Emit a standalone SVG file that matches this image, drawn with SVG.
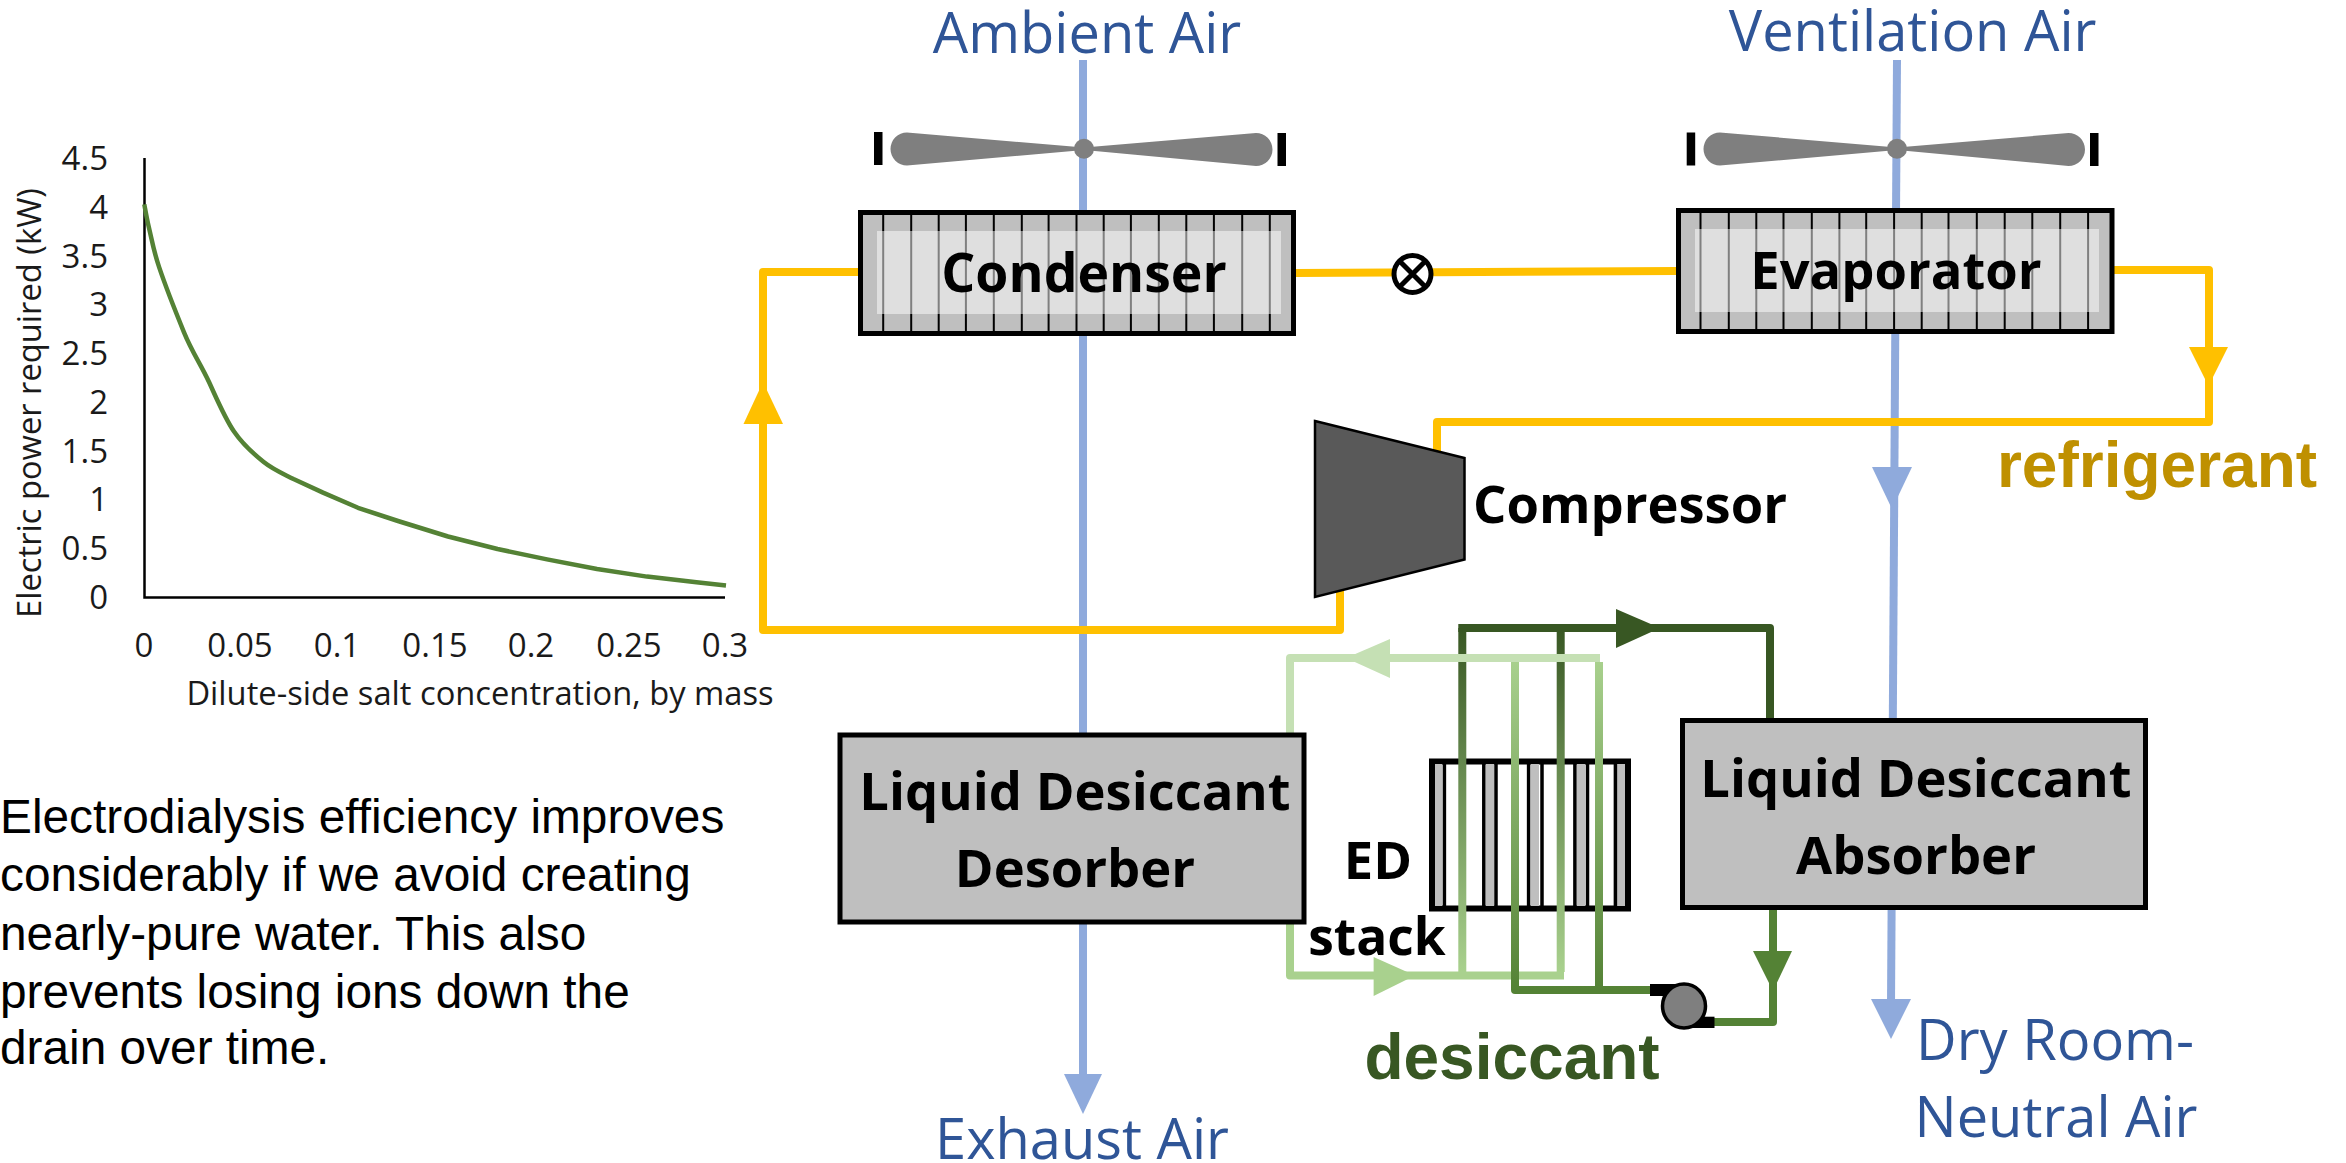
<svg xmlns="http://www.w3.org/2000/svg" width="2346" height="1163" viewBox="0 0 2346 1163">
<style>
text{font-family:"Open Sans","Noto Sans",sans-serif}
.air{font-size:56px;fill:#2f5597;text-anchor:middle}
.b{font-weight:700;text-anchor:middle;fill:#000;font-size:52.500px}
.ar{font-family:"Liberation Sans",Arial,sans-serif;font-weight:700;font-size:64px;text-anchor:middle}
.c{font-family:Lato,"Open Sans",sans-serif;fill:#1a1a1a}
.tick{font-size:33px;text-anchor:end}
.xt{font-size:33px;text-anchor:middle}
.ti{font-size:32.700px;text-anchor:middle}
.body{font-family:"Liberation Sans",Arial,sans-serif;font-size:47.800px;fill:#000}
.box{fill:#bfbfbf;stroke:#000;stroke-width:5}
.inner{fill:#fff;fill-opacity:.5}
.fin{stroke:#000;stroke-width:2;fill:none}
.fan{fill:#7f7f7f}
.w{fill:none;stroke-width:8;stroke-linejoin:round;stroke-linecap:butt}
.y{stroke:#ffc000}.a{stroke:#8faadc}
</style>
<defs>
<linearGradient id="gd" gradientUnits="userSpaceOnUse" x1="0" y1="628" x2="0" y2="972"><stop offset="0" stop-color="#385723"/><stop offset="1" stop-color="#a9d18e"/></linearGradient>
<linearGradient id="gl" gradientUnits="userSpaceOnUse" x1="0" y1="658" x2="0" y2="990"><stop offset="0" stop-color="#a9d18e"/><stop offset="1" stop-color="#548235"/></linearGradient>
</defs>

<g id="chart">
<path d="M144.500 158V597.500H725" fill="none" stroke="#000" stroke-width="2.500"/>
<path d="M144.300 204.400C145.100 208.500 146.800 218.700 149.300 229.200C151.800 239.700 153.400 250.200 159.200 267.400C165 284.600 175.700 312 184 332.300C192.300 352.600 200.700 364 209 382C217.300 400 224.900 418.200 234 431.500C243.100 444.800 253.800 454.100 263.700 462C273.600 469.900 283.600 473.900 293.500 479L323 492.600 358 507.800 398 521 448 536.500 497.500 549 547 559.400 597 569 647 576.600 696.500 582.300 726 585.400" fill="none" stroke="#548235" stroke-width="4.500" stroke-linejoin="round"/>
<g class="c">
<text class="tick" x="108" y="170">4.5</text><text class="tick" x="108" y="219">4</text><text class="tick" x="108" y="268">3.5</text><text class="tick" x="108" y="316">3</text><text class="tick" x="108" y="365">2.5</text><text class="tick" x="108" y="414">2</text><text class="tick" x="108" y="463">1.5</text><text class="tick" x="108" y="511">1</text><text class="tick" x="108" y="560">0.5</text><text class="tick" x="108" y="609">0</text>
<text class="xt" x="144" y="657">0</text><text class="xt" x="240" y="657">0.05</text><text class="xt" x="337" y="657">0.1</text><text class="xt" x="435" y="657">0.15</text><text class="xt" x="531" y="657">0.2</text><text class="xt" x="629" y="657">0.25</text><text class="xt" x="725" y="657">0.3</text>
<text class="ti" x="480" y="705">Dilute-side salt concentration, by mass</text>
<text class="ti" transform="translate(41 403) rotate(-90)">Electric power required (kW)</text>
</g>
</g>
<g id="note">
<text class="body" x="0" y="833">Electrodialysis efficiency improves</text>
<text class="body" x="0" y="891">considerably if we avoid creating</text>
<text class="body" x="0" y="950">nearly-pure water. This also</text>
<text class="body" x="0" y="1008">prevents losing ions down the</text>
<text class="body" x="0" y="1064">drain over time.</text>
</g>

<g id="ed-stack">
<rect x="1432" y="761.500" width="196" height="147" fill="#fff" stroke="#000" stroke-width="6"/>
<path d="M1435 764h7v142h-7zM1486 764h8v142h-8zM1531 764h8v142h-8zM1577 764h8v142h-8zM1617 764h8v142h-8z" fill="#bfbfbf"/>
<path d="M1444.400 764v142M1483.800 764v142M1496 764v142M1528.600 764v142M1542 764v142M1574.900 764v142M1587.500 764v142M1615.400 764v142" stroke="#000" stroke-width="3.500" fill="none"/>
</g>

<g id="connectors">
<path class="w a" d="M1083 60V1080"/><path d="M1064 1074H1102L1083 1114Z" fill="#8faadc"/>
<path class="w a" d="M1897 60L1891 1005"/>
<path d="M1872 467H1912L1892 509Z" fill="#8faadc"/><path d="M1871 999H1911L1891 1039Z" fill="#8faadc"/>
<path class="w y" d="M860 272H763V630H1340V590"/><path d="M743.500 424H783L763 382Z" fill="#ffc000"/>
<path class="w y" d="M1296 273L1676 271"/>
<path class="w y" d="M2112 270H2209V422H1437V452"/><path d="M2189 347H2228L2208.500 386Z" fill="#ffc000"/>
<path class="w" stroke="url(#gd)" d="M1462.300 628V972"/>
<path class="w" stroke="url(#gd)" d="M1560.700 628V972"/>
<path class="w" stroke="#c5e0b4" d="M1290 735V658H1600"/>
<path d="M1390 639V678L1346 658Z" fill="#c5e0b4"/>
<path class="w" stroke="#a9d18e" d="M1290 922V975.500H1564"/>
<path d="M1373.600 957V996L1415 975.500Z" fill="#a9d18e"/>
<path class="w" stroke="url(#gl)" d="M1515 662V990H1652"/>
<path class="w" stroke="url(#gl)" d="M1599 662V990"/>
<path class="w" stroke="#385723" d="M1458.300 628H1770V720"/>
<path d="M1616 609V648L1660 628Z" fill="#385723"/>
<path class="w" stroke="#548235" d="M1712 1022H1773V908"/>
<path d="M1753 951H1792L1773 991Z" fill="#548235"/>
</g>

<g id="fan-1">
<path class="fan" d="M1084 147.500L907 132.500A16.500 16.500 0 0 0 907 165.500L1084 150ZM1084 147.500L1256 133A16.500 16.500 0 0 1 1256 166L1084 150Z"/>
<circle class="fan" cx="1084" cy="148.700" r="10"/>
<rect x="874" y="132" width="8.500" height="33"/><rect x="1277.500" y="133" width="8.500" height="33"/>
</g>
<g id="fan-2">
<path class="fan" d="M1897 147.500L1720 132.500A16.500 16.500 0 0 0 1720 165.500L1897 150ZM1897 147.500L2068.500 133A16.500 16.500 0 0 1 2068.500 166L1897 150Z"/>
<circle class="fan" cx="1897" cy="148.700" r="10"/>
<rect x="1686.700" y="132.500" width="8.500" height="33"/><rect x="2090" y="133" width="8.500" height="33"/>
</g>

<g id="condenser">
<rect class="box" x="860.500" y="212.500" width="433" height="121"/>
<path class="fin" d="M883.200 213v120M911.200 213v120M938.700 213v120M965.900 213v120M993.800 213v120M1021.800 213v120M1048.600 213v120M1076.500 213v120M1103.700 213v120M1130.900 213v120M1158.800 213v120M1186.300 213v120M1213.900 213v120M1242.200 213v120M1269.800 213v120"/>
<rect class="inner" x="877" y="231" width="404" height="83"/>
<text class="b" x="1084" y="292" style="font-size:53.500px">Condenser</text>
</g>
<g id="valve">
<circle cx="1412.500" cy="274" r="18.500" fill="#fff" stroke="#000" stroke-width="5"/>
<path d="M1399.500 261l26 26M1425.500 261l-26 26" stroke="#000" stroke-width="5"/>
</g>
<g id="evaporator">
<rect class="box" x="1678.500" y="210.500" width="433.500" height="121"/>
<path class="fin" d="M1700.500 211v120M1728.800 211v120M1756.300 211v120M1783.500 211v120M1811.800 211v120M1839.400 211v120M1866.200 211v120M1894.100 211v120M1921.700 211v120M1948.500 211v120M1976.800 211v120M2004.700 211v120M2032.300 211v120M2060.200 211v120M2088.100 211v120"/>
<rect class="inner" x="1695" y="229" width="404" height="83"/>
<text class="b" x="1896" y="289">Evaporator</text>
</g>
<g id="compressor">
<path d="M1315 421L1464.500 458V559.500L1315 597Z" fill="#595959" stroke="#000" stroke-width="2.500"/>
<text class="b" x="1630" y="523">Compressor</text>
</g>
<g id="desorber">
<rect class="box" x="840" y="735" width="464" height="187"/>
<text class="b" x="1075" y="809.500">Liquid Desiccant</text>
<text class="b" x="1075" y="886.500">Desorber</text>
</g>
<g id="absorber">
<rect class="box" x="1682.500" y="720.500" width="463" height="187"/>
<text class="b" x="1916" y="796.500">Liquid Desiccant</text>
<text class="b" x="1916" y="873.500">Absorber</text>
</g>
<g id="ed-label">
<text class="b" x="1378" y="879">ED</text>
<text class="b" x="1377" y="955" style="font-size:51.500px">stack</text>
</g>
<g id="pump">
<rect x="1650" y="984" width="28" height="12"/><rect x="1690" y="1016.700" width="24.500" height="11.300"/>
<ellipse cx="1684" cy="1006" rx="21.500" ry="22" fill="#7f7f7f" stroke="#000" stroke-width="3.500"/>
</g>

<g id="labels">
<text class="air" x="1087" y="53">Ambient Air</text>
<text class="air" x="1912.600" y="51">Ventilation Air</text>
<text class="air" x="1082" y="1159">Exhaust Air</text>
<text class="air" x="2055" y="1060">Dry Room-</text>
<text class="air" x="2056" y="1137">Neutral Air</text>
<text class="ar" x="2157" y="487" fill="#bf9000">refrigerant</text>
<text class="ar" x="1512" y="1079" fill="#385723">desiccant</text>
</g>
</svg>
